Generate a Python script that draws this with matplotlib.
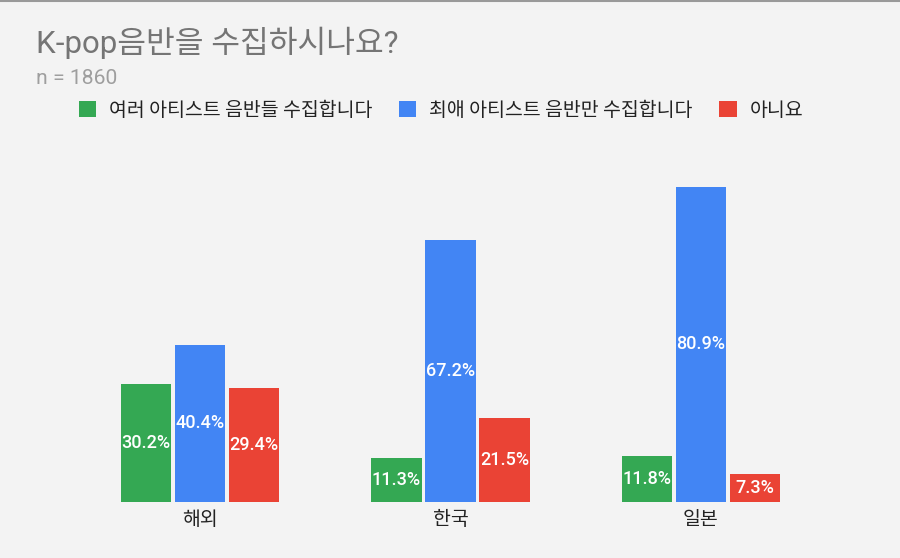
import matplotlib
matplotlib.use("Agg")
import matplotlib.pyplot as plt
import numpy as np

plt.rcParams['font.family'] = ['Roboto', 'Noto Sans CJK KR', 'DejaVu Sans']

categories = ['해외', '한국', '일본']
series_names = ['여러 아티스트 음반들 수집합니다', '최애 아티스트 음반만 수집합니다', '아니요']
series_values = [
    [30.2, 11.3, 11.8],
    [40.4, 67.2, 80.9],
    [29.4, 21.5, 7.3],
]
colors = ['#34a853', '#4285f4', '#ea4335']
title = 'K-pop음반을 수집하시나요?'
subtitle = 'n = 1860'

bg = '#f3f3f3'
fig = plt.figure(figsize=(9, 5.58), dpi=100, facecolor=bg)
W, H = 900, 558
ax = fig.add_axes([75 / W, (H - 502) / H, (826 - 75) / W, 350.5 / H])
ax.set_facecolor(bg)
ax.set_xlim(-0.5, 2.5)
ax.set_ylim(0, 90)

x = np.arange(len(categories))
width = 0.2
offset = 0.2156
for i, (name, vals, c) in enumerate(zip(series_names, series_values, colors)):
    pos = x + (i - 1) * offset
    ax.bar(pos, vals, width, color=c, label=name, linewidth=0)
    for p, v in zip(pos, vals):
        ax.text(p, v / 2, f'{v:.1f}%', ha='center', va='center', color='white',
                fontsize=13, fontweight='medium', family=['Roboto', 'DejaVu Sans'])

ax.set_xticks(x)
ax.set_xticklabels(categories, fontsize=14, color='#222222',
                   family=['Noto Sans CJK KR', 'DejaVu Sans'])
ax.tick_params(axis='x', length=0, pad=5)
ax.set_yticks([])
for s in ax.spines.values():
    s.set_visible(False)

fig.text(36 / W, 1 - 43 / H, title, fontsize=22.5, color='#757575', va='center', ha='left',
         family=['Roboto', 'Noto Sans CJK KR', 'DejaVu Sans'])
fig.text(36 / W, 1 - 79 / H, subtitle, fontsize=15.2, color='#9e9e9e', va='center', ha='left',
         family=['Roboto', 'DejaVu Sans'])

leg = fig.legend(loc='center left', bbox_to_anchor=(69 / W, 1 - 110 / H), ncol=3,
                 frameon=False, handlelength=0.9, handleheight=0.9, handletextpad=0.67,
                 columnspacing=1.35, borderaxespad=0, borderpad=0.5,
                 prop={'family': ['Noto Sans CJK KR', 'DejaVu Sans'], 'size': 14})
for t in leg.get_texts():
    t.set_color('#222222')

fig.add_artist(plt.Line2D([0, 1], [1 - 0.5 / H, 1 - 0.5 / H], color='#999999', linewidth=1.5,
                          transform=fig.transFigure))

fig.savefig('out.png', dpi=100, facecolor=bg)
